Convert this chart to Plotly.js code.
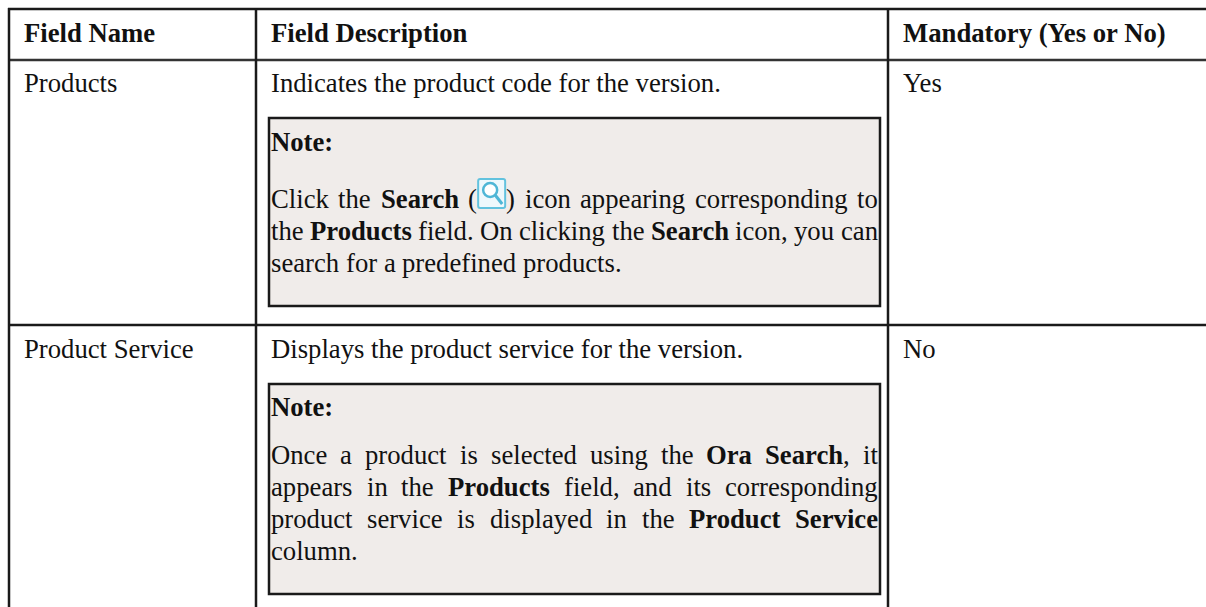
<!DOCTYPE html>
<html><head><meta charset="utf-8">
<script src="https://cdn.plot.ly/plotly-3.0.1.min.js"></script>
<style>html,body{margin:0;padding:0;background:#fff}</style>
</head><body><div id="chart" style="width:1206px;height:607px"></div>
<script>
// ---- table content ----
const columnHeaders = ["Field Name", "Field Description", "Mandatory (Yes or No)"];
const fieldNames = ["Products", "Product Service"];
const fieldDescriptions = ["Indicates the product code for the version.", "Displays the product service for the version."];
const mandatoryValues = ["Yes", "No"];
const noteLabel = "Note:";
// **word** marks bold text; {icon} is the search icon glyph
const noteOneLines = [
  "Click the **Search** {icon} icon appearing corresponding to",
  "the **Products** field. On clicking the **Search** icon, you can",
  "search for a predefined products."
];
const noteTwoLines = [
  "Once a product is selected using the **Ora Search**, it",
  "appears in the **Products** field, and its corresponding",
  "product service is displayed in the **Product Service**",
  "column."
];

// ---- geometry of the page ----
const W = 1206, H = 607;
const FONT = "Liberation Serif";
const SIZE = 26.7;
const TEXT = "#111111", LINE = "#1a1a1a", NOTE_BG = "#f0ecea";
const colLines = [9, 256, 888];
const colText = [24, 271, 903];
const rowLines = [9, 60, 325];
const noteBoxes = [{l:269,t:118,r:880,b:306},{l:269,t:384,r:880,b:594}];
const noteL = 271, noteR = 878;
const ICON_W = 29;
const BASE_SHIFT = 7;

const ctx = document.createElement("canvas").getContext("2d");
function width(s, bold){ ctx.font=(bold?"bold ":"")+SIZE+"px '"+FONT+"'"; return ctx.measureText(s).width; }

const ann = [];
function put(x, base, s, bold){
  ann.push({xref:"x",yref:"y",x:x,y:base,text:bold?"<b>"+s+"</b>":s,showarrow:false,
    xanchor:"left",yanchor:"bottom",yshift:-BASE_SHIFT,borderpad:0,borderwidth:0,align:"left",
    font:{family:FONT,size:SIZE,color:TEXT}});
}

function tokens(line){
  const out=[]; line.split("**").forEach((part,i)=>{
    part.split(" ").filter(Boolean).forEach(w=>out.push({t:w,b:i%2===1}));
  });
  return out;
}
let iconPos=null;
function justified(line, base, justify){
  const words=tokens(line);
  words.forEach(w=>{ if(/^[,.]/.test(w.t)) w.glue=true; });
  const ws=words.map(w=> w.t==="{icon}" ? width("(",false)+ICON_W+width(")",false) : width(w.t,w.b));
  const gaps=words.filter(w=>!w.glue).length-1;
  const total=ws.reduce((a,b)=>a+b,0);
  const gap=justify?(noteR-noteL-total)/gaps:width(" ",false);
  let x=noteL;
  words.forEach((w,i)=>{
    if(w.glue) x-=gap;
    if(w.t==="{icon}"){
      put(x,base,"(",false);
      iconPos={x:x+width("(",false)};
      put(x+width("(",false)+ICON_W,base,")",false);
    } else put(x,base,w.t,w.b);
    x+=ws[i]+gap;
  });
}

// header and rows
const headerBase=41;
columnHeaders.forEach((h,i)=>put(colText[i],headerBase,h,true));
const rowBase=[91,357];
fieldNames.forEach((v,i)=>put(colText[0],rowBase[i],v,false));
fieldDescriptions.forEach((v,i)=>put(colText[1],rowBase[i],v,false));
mandatoryValues.forEach((v,i)=>put(colText[2],rowBase[i],v,false));
put(noteL,150,noteLabel,true);
put(noteL,415,noteLabel,true);
const noteOneBase=[207,239,271], noteTwoBase=[463,495,527,559];
noteOneLines.forEach((l,i)=>justified(l,noteOneBase[i],i<noteOneLines.length-1));
noteTwoLines.forEach((l,i)=>justified(l,noteTwoBase[i],i<noteTwoLines.length-1));

// shapes
const shapes=[];
function ln(x0,y0,x1,y1,c,w){shapes.push({type:"line",xref:"x",yref:"y",x0,y0,x1,y1,line:{color:c,width:w},layer:"below"});}
noteBoxes.forEach(b=>shapes.push({type:"rect",xref:"x",yref:"y",x0:b.l,y0:b.t,x1:b.r,y1:b.b,fillcolor:NOTE_BG,line:{color:LINE,width:2.5},layer:"below"}));
rowLines.forEach((y,i)=>ln(8,y,W,y,i==1?"#333":LINE,2.5));
colLines.forEach(x=>ln(x,8,x,H,LINE,2.5));
// search icon
if(iconPos){
  const x0=iconPos.x+1, y0=179;
  shapes.push({type:"path",xref:"x",yref:"y",path:`M${x0+2},${y0} L${x0+25},${y0} Q${x0+27},${y0} ${x0+27},${y0+2} L${x0+27},${y0+27} Q${x0+27},${y0+29} ${x0+25},${y0+29} L${x0+2},${y0+29} Q${x0},${y0+29} ${x0},${y0+27} L${x0},${y0+2} Q${x0},${y0} ${x0+2},${y0} Z`,
    fillcolor:"#eef8fc",line:{color:"#62c2de",width:2}});
  shapes.push({type:"circle",xref:"x",yref:"y",x0:x0+5,y0:y0+4,x1:x0+19,y1:y0+18,fillcolor:"#ffffff",line:{color:"#4fb6d6",width:2.5}});
  shapes.push({type:"line",xref:"x",yref:"y",x0:x0+17,y0:y0+16,x1:x0+24,y1:y0+25,line:{color:"#4fb6d6",width:3}});
}
const ax=(r)=>({range:r,visible:false,fixedrange:true,showgrid:false,zeroline:false});
Plotly.newPlot("chart",[],{
  width:W,height:H,margin:{l:0,r:0,t:0,b:0},paper_bgcolor:"#fff",plot_bgcolor:"#fff",showlegend:false,
  xaxis:ax([0,W]),yaxis:ax([H,0]),annotations:ann,shapes:shapes
},{staticPlot:true,displayModeBar:false});
</script></body></html>
